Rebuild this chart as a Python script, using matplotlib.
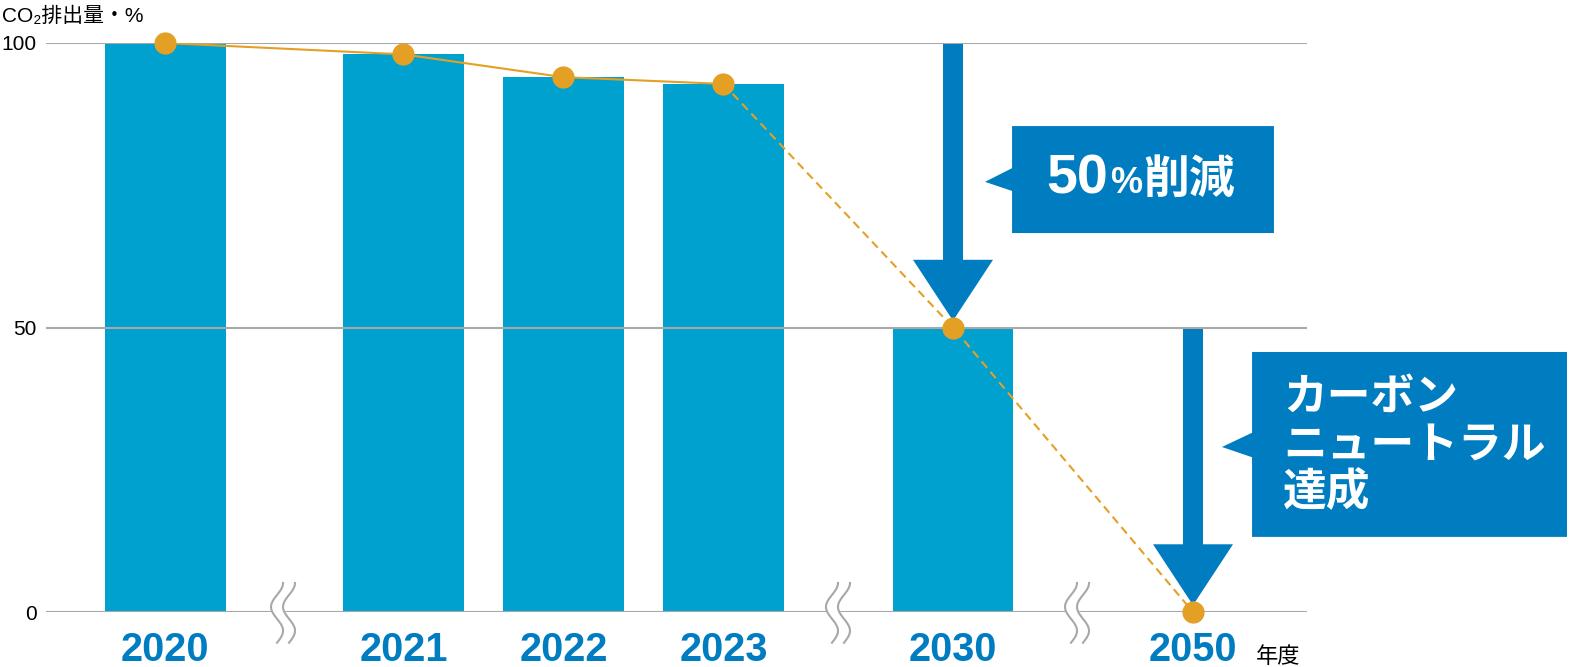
import numpy as np
import matplotlib
matplotlib.use('Agg')
import matplotlib.pyplot as plt
from matplotlib.patches import Polygon

plt.rcParams['font.family'] = ['Liberation Sans', 'DejaVu Sans', 'Noto Sans CJK JP']

# data
years = ['2020', '2021', '2022', '2023', '2030', '2050']
emissions = [100, 98, 94, 92.8, 50, 0]
yticks = [0, 50, 100]
ylabel = 'CO₂排出量・%'
unit_label = '年度'
note1 = ['50', '%', '削減']
note2 = ['カーボン', 'ニュートラル', '達成']

# layout (slot units, extra room where the axis is broken)
xpos = [0, 1.49, 2.49, 3.49, 4.925, 6.425]
breaks = [0.7375, 4.206, 5.70]

BAR = '#00a0cf'
BLUE = '#007cc0'
ORANGE = '#e4a025'
GRID = '#a8a8a8'

fig = plt.figure(figsize=(15.72, 6.67), dpi=100)
ax = fig.add_axes([46/1572, 55/667, 1261/1572, 569/667])
ax.set_xlim(-0.744, 7.1375)
ax.set_ylim(0, 100)
for s in ax.spines.values():
    s.set_visible(False)

# bars (no bar for 2050 -> value 0)
ax.bar(xpos[:5], emissions[:5], width=0.756, color=BAR, zorder=1)

for v in yticks:
    ax.axhline(v, color=GRID, lw=1.5, zorder=2)
ax.set_yticks(yticks)
ax.tick_params(axis='y', length=0, pad=6.5, labelsize=15)

ax.set_xticks(xpos, years)
ax.tick_params(axis='x', length=0, pad=35, labelsize=28.5, labelcolor=BLUE)
for lbl in ax.get_xticklabels():
    lbl.set_fontweight('bold')
    lbl.set_verticalalignment('baseline')


def down_arrow(x, y0, y1, head_len=10.7, shaft_w=0.125, head_w=0.5):
    yh = y1 + head_len
    pts = [(x - shaft_w/2, y0), (x + shaft_w/2, y0), (x + shaft_w/2, yh),
           (x + head_w/2, yh), (x, y1), (x - head_w/2, yh), (x - shaft_w/2, yh)]
    ax.add_patch(Polygon(pts, closed=True, color=BLUE, lw=0, zorder=1.5))


down_arrow(xpos[4], emissions[0], emissions[4] + 1.2)
down_arrow(xpos[5], emissions[4], emissions[5] + 1.2)

# trend line
ax.plot(xpos[:4], emissions[:4], color=ORANGE, lw=1.5, zorder=4)
ax.plot(xpos[3:], emissions[3:], color=ORANGE, lw=1.5, ls=(0, (4, 2.5)), zorder=4)
ax.plot(xpos, emissions, 'o', ms=15, color=ORANGE, zorder=5, clip_on=False)

# callout boxes
box1 = [(5.294, 85.4), (6.931, 85.4), (6.931, 66.6), (5.294, 66.6),
        (5.294, 74.0), (5.125, 75.6), (5.294, 78.0)]
box2 = [(6.794, 45.7), (8.7625, 45.7), (8.7625, 13.2), (6.794, 13.2),
        (6.794, 27.2), (6.606, 29.0), (6.794, 31.5)]
for b in (box1, box2):
    ax.add_patch(Polygon(b, closed=True, color=BLUE, lw=0, zorder=6, clip_on=False))

# "50%削減": pieces placed one after another
renderer = fig.canvas.get_renderer()
x0 = 5.506
sizes = [40, 26, 33]
fams = [['Liberation Sans'], ['Liberation Sans'], ['Noto Sans CJK JP']]
for piece, fs, fam in zip(note1, sizes, fams):
    tx = ax.text(x0, 73.6, piece, color='white', fontsize=fs, fontweight='bold',
                 va='baseline', family=fam, zorder=7)
    bb = tx.get_window_extent(renderer)
    x0 = ax.transData.inverted().transform((bb.x1 + 2, bb.y0))[0]

for i, line in enumerate(note2):
    ax.text(6.9875, 35.5 - i * 8.4, line, color='white', fontsize=31.5, fontweight='bold',
            va='baseline', family='Noto Sans CJK JP', zorder=7, clip_on=False)

# axis break marks
t = np.linspace(0, 1, 80)
for b in breaks:
    yy = 5.1 - t * 10.5
    dx = 0.0375 * np.cos(2 * np.pi * 1.25 * t)
    xl = b - 0.0375 + dx
    xr = b + 0.0375 + dx
    ax.fill_betweenx(yy, xl, xr, color='white', zorder=3, clip_on=False)
    ax.plot(xl, yy, color=GRID, lw=1.5, zorder=3.5, clip_on=False)
    ax.plot(xr, yy, color=GRID, lw=1.5, zorder=3.5, clip_on=False)

ax.text(6.82, -8.96, unit_label, fontsize=16, va='baseline', clip_on=False,
        family=['Noto Sans CJK JP'])
fig.text(0.001, (667 - 22) / 667, ylabel, fontsize=15, va='baseline')

fig.savefig('out.png', dpi=100)
